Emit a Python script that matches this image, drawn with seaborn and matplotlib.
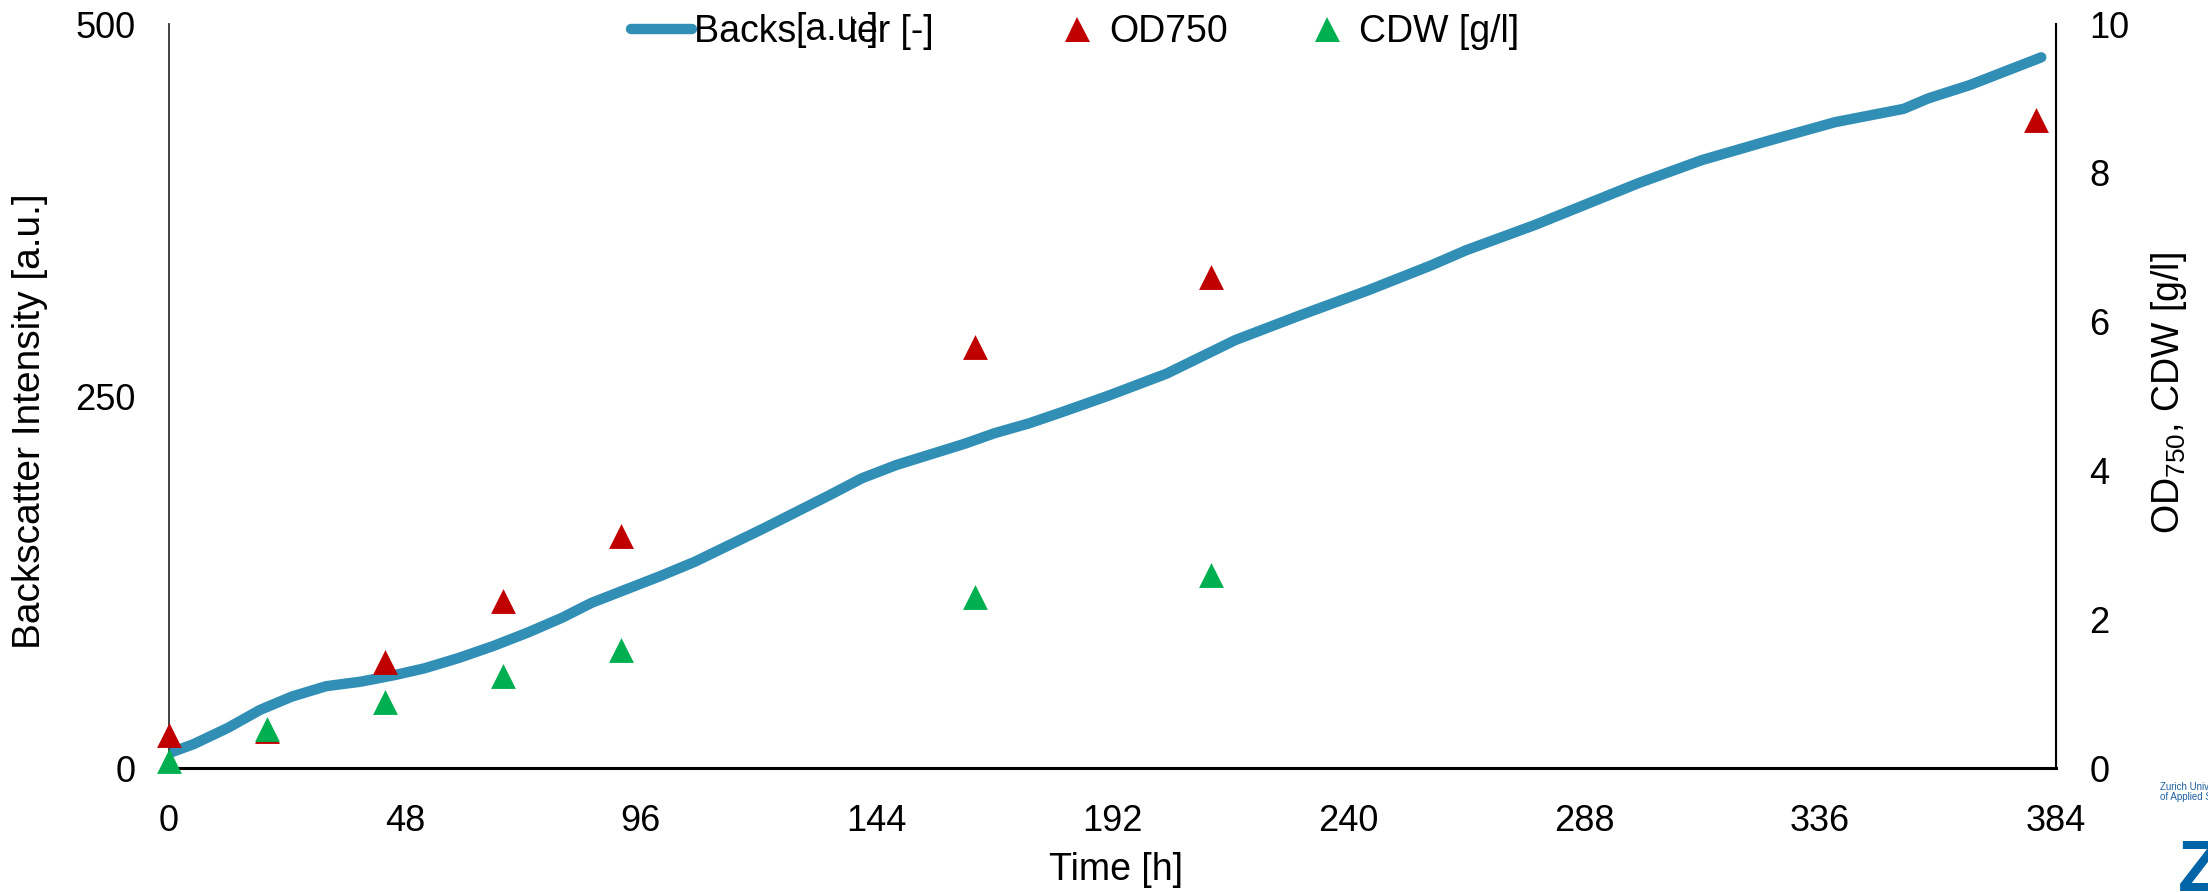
import pandas as pd
import seaborn as sns
from matplotlib import pyplot as plt
from matplotlib.lines import Line2D
from matplotlib.patches import Rectangle

# backscatter curve
time_bs = [0, 5, 12, 18.5, 25, 32, 39, 46, 52, 59, 66, 73, 80, 86, 93, 100, 107,
           121, 134.5, 141, 148, 162, 168, 175, 182, 191, 203, 217, 230, 244,
           257, 264, 278, 287, 299, 312, 326, 339, 353, 358, 366.5, 381]
backscatter = [10, 16, 27, 39, 48, 55, 58, 62.5, 67, 74, 82, 91, 101, 111, 120,
               129, 138.6, 161, 183.5, 194.7, 203.6, 218, 225, 231.6, 239.5, 250,
               265, 287.6, 304, 321, 338, 348, 365, 377, 393, 408.6, 422, 434,
               443, 450, 459, 477.6]

# offline samples
time_od = [0, 20, 44, 68, 92, 164, 212, 380]
od750 = [0.45, 0.50, 1.42, 2.24, 3.12, 5.66, 6.60, 8.71]
time_cdw = [0, 20, 44, 68, 92, 164, 212]
cdw = [0.10, 0.53, 0.89, 1.24, 1.59, 2.30, 2.59]

x_ticks = [0, 48, 96, 144, 192, 240, 288, 336, 384]
y_ticks = [0, 250, 500]
y2_ticks = [0, 2, 4, 6, 8, 10]

BLUE = "#318fb5"
RED = "#c00000"
GREEN = "#00b050"

sns.set_style("white")
plt.rcParams["font.family"] = ["Liberation Sans", "DejaVu Sans"]
plt.rcParams["mathtext.fontset"] = "custom"
plt.rcParams["mathtext.rm"] = "Liberation Sans"
plt.rcParams["mathtext.it"] = "Liberation Sans:italic"
for key in ("text.color", "axes.labelcolor", "xtick.color", "ytick.color"):
    plt.rcParams[key] = "black"

df_bs = pd.DataFrame({"Time": time_bs, "Backscatter": backscatter})
df_od = pd.DataFrame({"Time": time_od, "OD750": od750})
df_cdw = pd.DataFrame({"Time": time_cdw, "CDW": cdw})

W, H = 2208, 892
fig = plt.figure(figsize=(W / 100, H / 100), dpi=100)
ax = fig.add_axes([169 / W, 1 - 768 / H, 1887 / W, 744 / H])
ax2 = ax.twinx()

sns.lineplot(data=df_bs, x="Time", y="Backscatter", ax=ax, color=BLUE,
             linewidth=7.5, solid_capstyle="round")
sns.scatterplot(data=df_od, x="Time", y="OD750", ax=ax2, marker="^", s=320,
                color=RED, linewidth=0, clip_on=False, zorder=3)
sns.scatterplot(data=df_cdw, x="Time", y="CDW", ax=ax2, marker="^", s=320,
                color=GREEN, linewidth=0, clip_on=False, zorder=4)

ax.set_xlim(0, 384)
ax.set_ylim(0, 500)
ax2.set_ylim(0, 10)
ax.set_xticks(x_ticks)
ax.set_yticks(y_ticks)
ax2.set_yticks(y2_ticks)

ax.tick_params(axis="both", length=0, labelsize=26, pad=24)
ax.tick_params(axis="x", pad=26)
ax2.tick_params(axis="y", length=0, labelsize=26, pad=24)

ax.set_xlabel("Time [h]", fontsize=27)
ax.set_ylabel("Backscatter Intensity [a.u.]", fontsize=28)
ax2.set_ylabel("OD$_{750}$, CDW [g/l]", fontsize=27)
ax.xaxis.set_label_coords(0.502, -0.137)
ax.xaxis.label.set_va("center")
ax.yaxis.set_label_coords(-0.0735, 0.466)
ax.yaxis.label.set_va("center")
ax2.yaxis.set_label_coords(1.060, 0.504)
ax2.yaxis.label.set_va("center")

for a in (ax, ax2):
    a.spines["top"].set_visible(False)
ax.spines["left"].set_color("#333333")
ax.spines["left"].set_linewidth(1.3)
ax.spines["bottom"].set_color("black")
ax.spines["bottom"].set_linewidth(2.2)
ax2.spines["left"].set_visible(False)
ax2.spines["bottom"].set_visible(False)
ax2.spines["right"].set_color("black")
ax2.spines["right"].set_linewidth(1.5)

# legend entries placed one by one along the top
entries = [
    (Line2D([], [], color=BLUE, lw=7.5, solid_capstyle="round"),
     "Backscatter [-]", 631),
    (Line2D([], [], color=RED, marker="^", ls="", markersize=18, markeredgewidth=0),
     "OD750", 1046),
    (Line2D([], [], color=GREEN, marker="^", ls="", markersize=18, markeredgewidth=0),
     "CDW [g/l]", 1296),
]
for handle, label, x0 in entries:
    fig.legend([handle], [label], loc="center left",
               bbox_to_anchor=(x0 / W, 1 - 32 / H), frameon=False,
               fontsize=27, handlelength=1.63, handletextpad=0.05,
               borderaxespad=0, borderpad=0)

# overlapping "[a.u.]" label on top of the legend text, as in the source
fig.patches.append(Rectangle((795 / W, 1 - 50 / H), 56 / W, 38 / H,
                             transform=fig.transFigure, facecolor="white",
                             edgecolor="none", zorder=6))
fig.text(795 / W, 1 - 30 / H, "[a.u.]", fontsize=27, ha="left", va="center",
         zorder=7)

# logo fragment in the corner
fig.text(2160 / W, 1 - 782 / H, "Zurich University\nof Applied Sciences",
         fontsize=7, color="#1f5f9f", ha="left", va="top", linespacing=1.0)
fig.text(2178 / W, 1 - 838 / H, "Zh", fontsize=52, fontweight="bold",
         color="#0064a6", ha="left", va="top")

fig.savefig("out.png", dpi=100)
